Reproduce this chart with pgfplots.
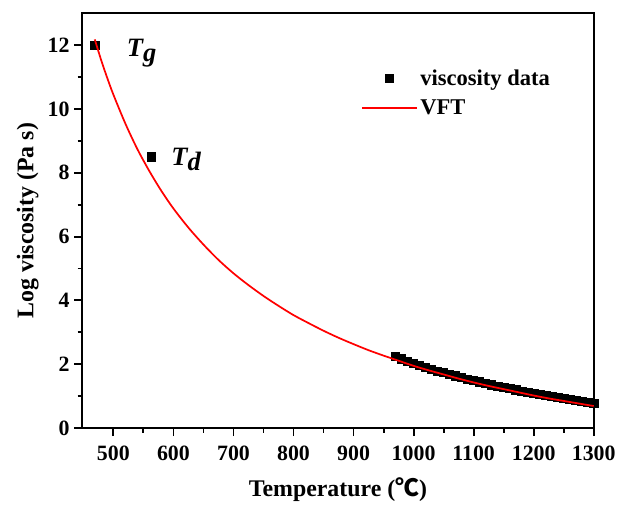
\documentclass[border=0pt]{standalone}
\usepackage{pgfplots}
\pgfplotsset{compat=1.18}
\usepackage{fontspec}
\setmainfont{Liberation Serif}
\newfontfamily\cjk{Noto Sans CJK SC}
\pgfplotsset{
    marklegend/.style={legend image code/.code={\draw[##1] plot coordinates {(0.72cm,0cm)};}},
    linelegend/.style={legend image code/.code={\draw[##1] (0cm,0cm) -- (1.44cm,0cm);}},
}
\begin{document}
\begin{tikzpicture}
\begin{axis}[
    set layers,
    scale only axis,
    width=386pt, height=313pt,
    xmin=448, xmax=1300,
    ymin=0, ymax=13,
    xtick={500,600,...,1300},
    ytick={0,2,...,12},
    minor x tick num=1,
    minor y tick num=1,
    tick pos=left,
    tick align=outside,
    major tick length=6pt,
    minor tick length=3.5pt,
    axis line style={line width=1.5pt},
    tick style={line width=1.4pt, black},
    /pgf/number format/assume math mode=true,
    /pgf/number format/1000 sep={},
    ticklabel style={font=\fontsize{16.5}{18}\selectfont\bfseries},
    xticklabel style={yshift=-4pt},
    xlabel={Temperature ({\cjk ℃})},
    ylabel={Log viscosity (Pa s)},
    xlabel style={yshift=-6pt},
    label style={font=\fontsize{18}{20}\selectfont\bfseries},
    legend style={draw=none, fill=none, at={(0.538,0.878)}, anchor=north west,
        font=\fontsize{17}{19}\selectfont\bfseries, row sep=5.5pt},
    legend cell align=left,
]
\addplot[only marks, mark=square*, mark size=3.1pt, black, marklegend] coordinates {
(469,12.0) (563,8.5)
(970,2.24) (980,2.17) (990,2.10) (1000,2.03) (1010,1.97) (1020,1.91)
(1030,1.85) (1040,1.79) (1050,1.74) (1060,1.69) (1070,1.64) (1080,1.58)
(1090,1.53) (1100,1.49) (1110,1.45) (1120,1.40) (1130,1.36) (1140,1.32)
(1150,1.28) (1160,1.24) (1170,1.20) (1180,1.16) (1190,1.13) (1200,1.09)
(1210,1.06) (1220,1.02) (1230,0.99) (1240,0.96) (1250,0.93) (1260,0.90)
(1270,0.87) (1280,0.84) (1290,0.81) (1300,0.78)
};
\addlegendentry{viscosity data}
\addplot[red, line width=1.3pt, smooth, on layer=axis foreground, linelegend] coordinates {
(469,12.18) (480,11.51) (490,10.96) (500,10.45) (520,9.54) (540,8.74)
(560,8.05) (580,7.43) (600,6.88) (625,6.28) (650,5.75) (675,5.27)
(700,4.85) (725,4.48) (750,4.14) (775,3.83) (800,3.54) (825,3.29)
(850,3.05) (875,2.83) (900,2.63) (925,2.44) (950,2.27) (975,2.11)
(1000,1.95) (1025,1.81) (1050,1.68) (1075,1.55) (1100,1.43) (1125,1.32)
(1150,1.22) (1175,1.12) (1200,1.02) (1225,0.93) (1250,0.85) (1275,0.77)
(1300,0.69)
};
\addlegendentry{VFT}
\node[font=\fontsize{20}{22}\selectfont\bfseries\itshape] at (axis cs:547,11.75) {T\raisebox{-0.4ex}{g}};
\node[font=\fontsize{20}{22}\selectfont\bfseries\itshape] at (axis cs:621,8.42) {T\raisebox{-0.4ex}{d}};
\coordinate (ao) at (rel axis cs:0,0);
\coordinate (at) at (rel axis cs:0,1);
\end{axis}
\path (ao) ++(-62pt,-58pt) coordinate (padbl);
\path (at) ++(0,10pt) coordinate (padtop);
\end{tikzpicture}
\end{document}
